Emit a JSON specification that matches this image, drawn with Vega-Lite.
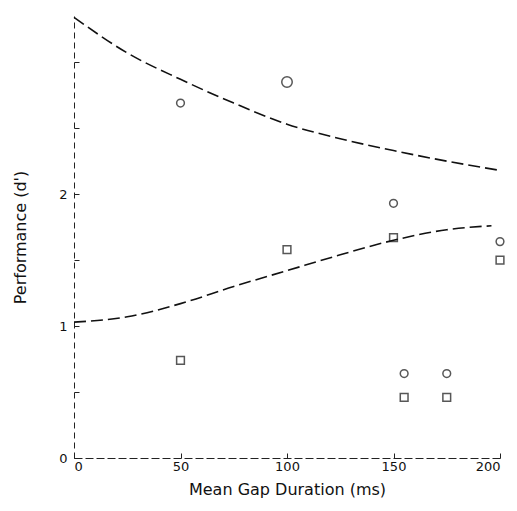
{
  "$schema": "https://vega.github.io/schema/vega-lite/v6.json",
  "autosize": "none",
  "width": 426,
  "height": 442,
  "padding": {"left": 74, "top": 16, "right": 17, "bottom": 53},
  "background": "white",
  "config": {
    "view": {"stroke": null},
    "font": "DejaVu Sans",
    "axis": {"grid": false, "domainColor": "#222", "tickColor": "#222", "labelColor": "#111", "titleColor": "#111", "labelFont": "DejaVu Sans", "titleFont": "DejaVu Sans", "titleFontWeight": "normal", "labelFontSize": 13, "titleFontSize": 16}
  },
  "datasets": {
    "curves": [
      {"gap": 0, "dprime": 3.34, "curve": "upper"},
      {"gap": 25, "dprime": 3.07, "curve": "upper"},
      {"gap": 50, "dprime": 2.87, "curve": "upper"},
      {"gap": 75, "dprime": 2.69, "curve": "upper"},
      {"gap": 100, "dprime": 2.53, "curve": "upper"},
      {"gap": 125, "dprime": 2.42, "curve": "upper"},
      {"gap": 150, "dprime": 2.33, "curve": "upper"},
      {"gap": 175, "dprime": 2.25, "curve": "upper"},
      {"gap": 200, "dprime": 2.18, "curve": "upper"},
      {"gap": 0, "dprime": 1.03, "curve": "lower"},
      {"gap": 25, "dprime": 1.07, "curve": "lower"},
      {"gap": 50, "dprime": 1.17, "curve": "lower"},
      {"gap": 75, "dprime": 1.30, "curve": "lower"},
      {"gap": 100, "dprime": 1.42, "curve": "lower"},
      {"gap": 125, "dprime": 1.54, "curve": "lower"},
      {"gap": 150, "dprime": 1.65, "curve": "lower"},
      {"gap": 175, "dprime": 1.73, "curve": "lower"},
      {"gap": 196, "dprime": 1.76, "curve": "lower"}
    ],
    "points": [
      {"gap": 50, "dprime": 2.69, "shape": "circle", "big": "n"},
      {"gap": 100, "dprime": 2.85, "shape": "circle", "big": "y"},
      {"gap": 150, "dprime": 1.93, "shape": "circle", "big": "n"},
      {"gap": 200, "dprime": 1.64, "shape": "circle", "big": "n"},
      {"gap": 155, "dprime": 0.64, "shape": "circle", "big": "n"},
      {"gap": 175, "dprime": 0.64, "shape": "circle", "big": "n"},
      {"gap": 50, "dprime": 0.74, "shape": "square", "big": "n"},
      {"gap": 100, "dprime": 1.58, "shape": "square", "big": "n"},
      {"gap": 150, "dprime": 1.67, "shape": "square", "big": "n"},
      {"gap": 200, "dprime": 1.50, "shape": "square", "big": "n"},
      {"gap": 155, "dprime": 0.46, "shape": "square", "big": "n"},
      {"gap": 175, "dprime": 0.46, "shape": "square", "big": "n"}
    ]
  },
  "layer": [
    {
      "data": {"name": "curves"},
      "mark": {"type": "line", "color": "#111", "strokeWidth": 1.6, "strokeDash": [12, 5], "interpolate": "monotone", "clip": false},
      "encoding": {
        "x": {"field": "gap", "type": "quantitative", "scale": {"domain": [0, 200], "nice": false},
          "axis": {"title": "Mean Gap Duration (ms)", "values": [0, 50, 100, 150, 200], "format": "d", "tickSize": -5, "labelPadding": 7, "domainDash": [8, 3], "titlePadding": 8}},
        "y": {"field": "dprime", "type": "quantitative", "scale": {"domain": [0, 3.35], "nice": false},
          "axis": {"title": "Performance (d')", "values": [0, 0.25, 0.5, 0.75, 1, 1.25, 1.5, 1.75, 2, 2.25, 2.5, 2.75, 3, 3.25], "labelExpr": "datum.value == 0 || datum.value == 1 || datum.value == 2 ? format(datum.value, 'd') : ''", "tickSize": -5, "labelPadding": 12, "domainDash": [6, 4], "titlePadding": 30}},
        "detail": {"field": "curve", "type": "nominal"}
      }
    },
    {
      "data": {"name": "points"},
      "mark": {"type": "point", "filled": false, "color": "#111", "strokeWidth": 1.5},
      "encoding": {
        "x": {"field": "gap", "type": "quantitative"},
        "y": {"field": "dprime", "type": "quantitative"},
        "shape": {"field": "shape", "type": "nominal", "scale": {"domain": ["circle", "square"], "range": ["circle", "square"]}, "legend": null},
        "size": {"field": "big", "type": "nominal", "scale": {"domain": ["n", "y"], "range": [60, 110]}, "legend": null}
      }
    }
  ]
}
